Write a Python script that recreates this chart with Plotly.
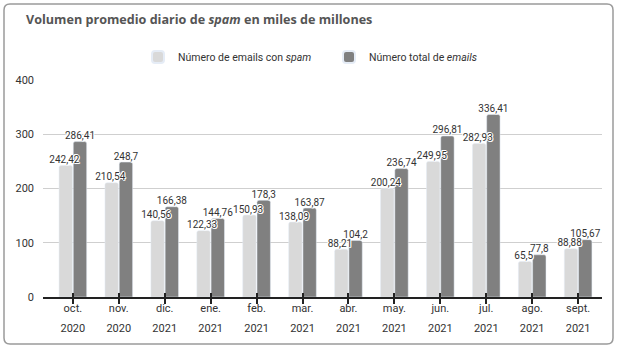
import plotly.graph_objects as go

months = ["oct.", "nov.", "dic.", "ene.", "feb.", "mar.", "abr.", "may.", "jun.", "jul.", "ago.", "sept."]
years = ["2020", "2020", "2021", "2021", "2021", "2021", "2021", "2021", "2021", "2021", "2021", "2021"]
spam = [242.42, 210.54, 140.56, 122.33, 150.93, 138.09, 88.21, 200.24, 249.95, 282.93, 65.5, 88.88]
total = [286.41, 248.7, 166.38, 144.76, 178.3, 163.87, 104.2, 236.74, 296.81, 336.41, 77.8, 105.67]
y_ticks = [0, 100, 200, 300, 400]

xs = list(range(len(months)))
fmt = lambda v: f"{v:g}".replace(".", ",")

FONT = "Roboto"
TFONT = "Open Sans"
halo = "1px 0 0 white, -1px 0 0 white, 0 1px 0 white, 0 -1px 0 white, 1px 1px 0 white, -1px -1px 0 white"

BARGAP, GROUPGAP = 0.38, 0.06
slot = (1 - BARGAP) / 2

fig = go.Figure()
fig.add_bar(x=xs, y=spam, name="Número de emails con <i>spam</i>",
            marker_color="#d9d9d9")
fig.add_bar(x=xs, y=total, name="Número total de <i>emails</i>",
            marker_color="#808080")
# value labels drawn above all bars (scatter layer sits over bar layer)
fig.add_scatter(x=[i - slot / 2 - 0.03 for i in xs], y=spam, mode="text",
                text=[fmt(v) for v in spam], textposition="top center",
                cliponaxis=False, showlegend=False, hoverinfo="skip",
                textfont=dict(size=10, color="#333", family=FONT, shadow=halo))
fig.add_scatter(x=[i + slot / 2 for i in xs], y=total, mode="text",
                text=[fmt(v) for v in total], textposition="top center",
                cliponaxis=False, showlegend=False, hoverinfo="skip",
                textfont=dict(size=10, color="#333", family=FONT, shadow=halo))
# invisible trace to activate the month axis
fig.add_scatter(x=xs, y=[0] * len(xs), xaxis="x2", mode="markers",
                marker=dict(opacity=0), showlegend=False, hoverinfo="skip")

L, R, T, B = 43, 15, 80, 52
W, H = 617, 349
pw, ph = W - L - R, H - T - B

def px(x):
    return (x - L) / pw

def py(y):
    return (H - B - y) / ph

x0, x1, y0, y1 = px(4), px(613), py(344), py(4)
rx, ry = 6 / pw, 6 / ph
path = (f"M {x0+rx},{y0} L {x1-rx},{y0} Q {x1},{y0} {x1},{y0+ry} "
        f"L {x1},{y1-ry} Q {x1},{y1} {x1-rx},{y1} L {x0+rx},{y1} "
        f"Q {x0},{y1} {x0},{y1-ry} L {x0},{y0+ry} Q {x0},{y0} {x0+rx},{y0} Z")

xrange = [-0.65, 11.52]
fig.update_layout(
    width=W, height=H,
    margin=dict(l=L, r=R, t=T, b=B, autoexpand=False),
    paper_bgcolor="white", plot_bgcolor="white",
    font=dict(family=FONT, size=11, color="#333"),
    barmode="group", bargap=BARGAP, bargroupgap=GROUPGAP,
    barcornerradius=2,
    title=dict(text="Volumen promedio diario de <i>spam</i> en miles de millones",
               x=26 / W, xref="container", xanchor="left",
               y=1 - 20 / H, yref="container", yanchor="middle",
               font=dict(family=TFONT, size=12.6, color="#555", weight="bold")),
    legend=dict(orientation="h", x=px(138), xanchor="left", y=py(57), yanchor="middle",
                entrywidth=146, entrywidthmode="pixels",
                font=dict(size=10.5, color="#333"), itemsizing="constant",
                traceorder="normal"),
    xaxis=dict(range=xrange, tickmode="array", tickvals=xs, ticktext=years,
               showgrid=False, showline=True, linecolor="#222", linewidth=1.5,
               ticks="outside", ticklen=5, tickwidth=1.5, tickcolor="#222",
               ticklabelstandoff=15, tickfont=dict(size=11, color="#333"),
               zeroline=False),
    xaxis2=dict(range=xrange, overlaying="x", anchor="y", side="bottom",
                tickmode="array", tickvals=xs, ticktext=months,
                showgrid=False, showline=False,
                ticks="inside", ticklen=4, tickwidth=1.5, tickcolor="#222",
                ticklabelstandoff=3, tickfont=dict(size=11, color="#333"),
                zeroline=False),
    yaxis=dict(range=[0, 400], tickmode="array", tickvals=y_ticks,
               showgrid=True, gridcolor="#cfcfcf", gridwidth=1,
               zeroline=False, showline=False, ticks="",
               ticklabelstandoff=8, tickfont=dict(size=11, color="#333")),
    shapes=[dict(type="path", path=path, xref="paper", yref="paper",
                 line=dict(color="#9a9a9a", width=1.5), fillcolor="rgba(0,0,0,0)",
                 layer="below")],
)

fig.write_html("out.html")
